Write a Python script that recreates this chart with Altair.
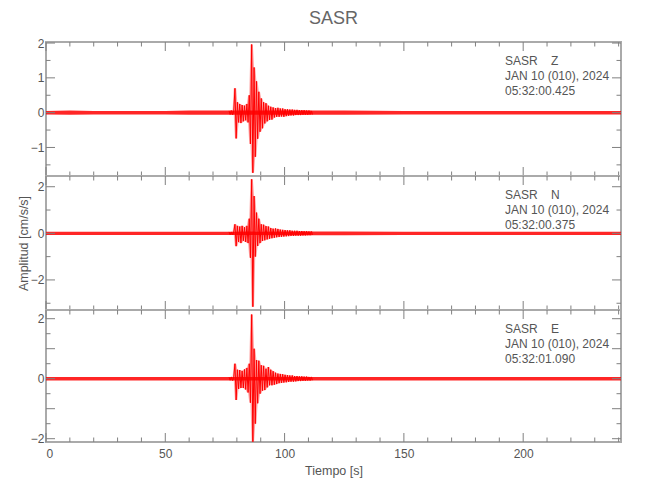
import altair as alt
import pandas as pd
import numpy as np

# ---------------- data ----------------
STATION = "SASR"
COMPONENTS = ["Z", "N", "E"]
DATE_TXT = "JAN 10 (010), 2024"
START_TIMES = ["05:32:00.425", "05:32:00.375", "05:32:01.090"]

# event window: one signed extreme every 0.5 s starting at 76.7 s
EVENT_T0 = 76.7
EVENT_DT = 0.5
EVENT_Z = [0.05, -0.05, 0.06, -0.06, 0.05, 0.70, -0.74, 0.30, -0.28, 0.25, -0.30,
           0.22, -0.25, 0.20, -0.22, 0.25, -0.28, 0.50, -0.90, 1.96, -1.73, 1.30,
           -1.27, 0.90, -0.75, 0.60, -0.55, 0.41, -0.45, 0.30, -0.31, 0.27, -0.25,
           0.20, -0.21, 0.17, -0.20, 0.15, -0.14, 0.13, -0.12, 0.14, -0.12, 0.12,
           -0.11, 0.12, -0.12, 0.10, -0.10, 0.10, -0.09, 0.09, -0.08, 0.09, -0.08,
           0.08, -0.07, 0.08, -0.07, 0.07, -0.07, 0.07, -0.06, 0.07, -0.06, 0.06,
           -0.06, 0.06, -0.05, 0.05, -0.05]
EVENT_N = [0.06, -0.06, 0.06, -0.07, 0.06, 0.39, -0.55, 0.32, -0.37, 0.29, -0.42,
           0.32, -0.32, 0.26, -0.37, 0.32, -0.42, 0.63, -1.05, 2.32, -3.15, 1.60,
           -1.00, 0.89, -0.54, 0.63, -0.42, 0.39, -0.33, 0.37, -0.30, 0.31, -0.26,
           0.29, -0.23, 0.23, -0.21, 0.20, -0.19, 0.21, -0.17, 0.19, -0.16, 0.16,
           -0.15, 0.15, -0.14, 0.14, -0.13, 0.13, -0.12, 0.13, -0.11, 0.11, -0.11,
           0.11, -0.10, 0.11, -0.10, 0.10, -0.10, 0.10, -0.09, 0.09, -0.09, 0.09,
           -0.08, 0.08, -0.08, 0.08, -0.07]
EVENT_E = [0.05, -0.05, 0.06, -0.06, 0.06, 0.50, -0.71, 0.30, -0.34, 0.29, -0.31,
           0.26, -0.31, 0.31, -0.36, 0.36, -0.46, 0.50, -0.80, 2.14, -2.10, 1.00,
           -1.50, 0.62, -0.82, 0.60, -0.50, 0.45, -0.40, 0.43, -0.38, 0.33, -0.29,
           0.39, -0.22, 0.30, -0.22, 0.25, -0.20, 0.20, -0.18, 0.17, -0.15, 0.16,
           -0.14, 0.15, -0.13, 0.13, -0.12, 0.12, -0.11, 0.11, -0.10, 0.11, -0.10,
           0.09, -0.09, 0.09, -0.08, 0.08, -0.08, 0.08, -0.07, 0.07, -0.07, 0.07,
           -0.06, 0.06, -0.06, 0.06, -0.05]

# background noise envelope (half width) at breakpoints
NOISE_T = [0, 10, 20, 30, 50, 60, 70, 76.7, 111.7, 125, 150, 200, 241]
NOISE_Z = [0.05, 0.06, 0.05, 0.05, 0.05, 0.06, 0.06, 0.06, 0.06, 0.06, 0.05, 0.05, 0.05]
NOISE_N = [0.07, 0.07, 0.07, 0.07, 0.07, 0.07, 0.07, 0.07, 0.08, 0.08, 0.07, 0.07, 0.07]
NOISE_E = [0.06, 0.06, 0.06, 0.06, 0.06, 0.06, 0.06, 0.06, 0.06, 0.06, 0.06, 0.06, 0.06]

Y_DOMAINS = [[-1.82, 2.03], [-3.29, 2.46], [-2.11, 2.29]]
Y_MAJOR = [[-1, 0, 1, 2], [-2, 0, 2], [-2, -1, 0, 1, 2]]
Y_MINOR = [[-1.5, -0.5, 0.5, 1.5], [-3, -1, 1], [-1.5, -0.5, 0.5, 1.5]]
X_DOMAIN = [0, 241]
X_MAJOR = [0, 50, 100, 150, 200]
X_MINOR = [10, 20, 30, 40, 60, 70, 80, 90, 110, 120, 130, 140,
           160, 170, 180, 190, 210, 220, 230, 240]

EVENTS = [EVENT_Z, EVENT_N, EVENT_E]
NOISES = [NOISE_Z, NOISE_N, NOISE_E]

# ---------------- style ----------------
FONT = "Liberation Sans Narrow, Liberation Sans, sans-serif"
RED = "#ff0000"
TXT = "#555555"
TICK = "#808080"
W = 575
HEIGHTS = [134, 134, 132]
MAJ = 9
MIN = 4.5


def panel(k):
    H = HEIGHTS[k]
    xs = alt.Scale(domain=X_DOMAIN, nice=False, zero=False)
    ys = alt.Scale(domain=Y_DOMAINS[k], nice=False, zero=False)

    yaxis_kw = dict(values=Y_MAJOR[k], ticks=False, domain=False, grid=False,
                    labelFont=FONT, labelFontSize=12, labelColor=TXT,
                    labelPadding=2, minExtent=15, maxExtent=15)
    if k == 1:
        yaxis_kw.update(title="Amplitud [cm/s/s]", titleFont=FONT, titleFontSize=12.5,
                        titleColor=TXT, titleFontWeight="normal", titlePadding=1)
    else:
        yaxis_kw.update(title="")
    yaxis = alt.Axis(**yaxis_kw)

    if k == 2:
        xenc = alt.X("t:Q", scale=xs, axis=alt.Axis(
            values=X_MAJOR, ticks=False, domain=False, grid=False,
            labelFont=FONT, labelFontSize=12, labelColor=TXT, labelPadding=6,
            title="Tiempo [s]", titleFont=FONT, titleFontSize=12.5, titleColor=TXT,
            titleFontWeight="normal", titlePadding=5))
    else:
        xenc = alt.X("t:Q", scale=xs, axis=None)

    amp = NOISES[k]
    noise_df = pd.DataFrame({"t": NOISE_T, "hi": amp, "lo": [-a for a in amp]})
    band = alt.Chart(noise_df).mark_area(color=RED, opacity=0.85).encode(
        x=xenc, y=alt.Y("lo:Q", scale=ys, axis=yaxis), y2="hi:Q")

    vals = EVENTS[k]
    ev_df = pd.DataFrame({"t": EVENT_T0 + EVENT_DT * np.arange(len(vals)), "v": vals})
    roll = ev_df["v"].rolling(3, center=True, min_periods=1)
    ev_df["lo"] = roll.min()
    ev_df["hi"] = roll.max()
    fill = alt.Chart(ev_df).mark_area(color=RED, opacity=0.35, clip=True).encode(
        x=alt.X("t:Q", scale=xs), y=alt.Y("lo:Q", scale=ys), y2="hi:Q")
    line = alt.Chart(ev_df).mark_line(color=RED, strokeWidth=1, clip=True).encode(
        x=alt.X("t:Q", scale=xs), y=alt.Y("v:Q", scale=ys))

    layers = [band, fill, line]

    # inward ticks on all four sides
    for vals_x, L in ((X_MAJOR, MAJ), (X_MINOR, MIN)):
        d = pd.DataFrame({"t": vals_x})
        layers.append(alt.Chart(d).mark_rule(color=TICK, strokeWidth=1).encode(
            x=alt.X("t:Q", scale=xs), y=alt.value(0), y2=alt.value(L)))
        layers.append(alt.Chart(d).mark_rule(color=TICK, strokeWidth=1).encode(
            x=alt.X("t:Q", scale=xs), y=alt.value(H), y2=alt.value(H - L)))
    for vals_y, L in ((Y_MAJOR[k], MAJ), (Y_MINOR[k], MIN)):
        d = pd.DataFrame({"a": vals_y})
        layers.append(alt.Chart(d).mark_rule(color=TICK, strokeWidth=1).encode(
            y=alt.Y("a:Q", scale=ys), x=alt.value(0), x2=alt.value(L)))
        layers.append(alt.Chart(d).mark_rule(color=TICK, strokeWidth=1).encode(
            y=alt.Y("a:Q", scale=ys), x=alt.value(W - L), x2=alt.value(W)))

    label = STATION + "\u00a0\u00a0\u00a0\u00a0" + COMPONENTS[k] + "\n" + DATE_TXT + "\n" + START_TIMES[k]
    txt = alt.Chart(pd.DataFrame({"s": [label]})).mark_text(
        align="left", baseline="top", font=FONT, fontSize=12, color=TXT,
        lineBreak="\n", lineHeight=15).encode(
        text="s:N", x=alt.value(459), y=alt.value(14))
    layers.append(txt)

    return alt.layer(*layers).properties(width=W, height=H)


chart = alt.vconcat(panel(0), panel(1), panel(2), spacing=0, bounds="flush").properties(
    title=alt.TitleParams("SASR", font=FONT, fontSize=18, color="#666666",
                          fontWeight="normal", anchor="middle", frame="group", offset=8),
    padding={"left": 8, "top": 2, "right": 5, "bottom": 5},
).configure_view(stroke="#aaaaaa", strokeWidth=2)

chart.save("out.html", embed_options={"renderer": "svg", "actions": False})
